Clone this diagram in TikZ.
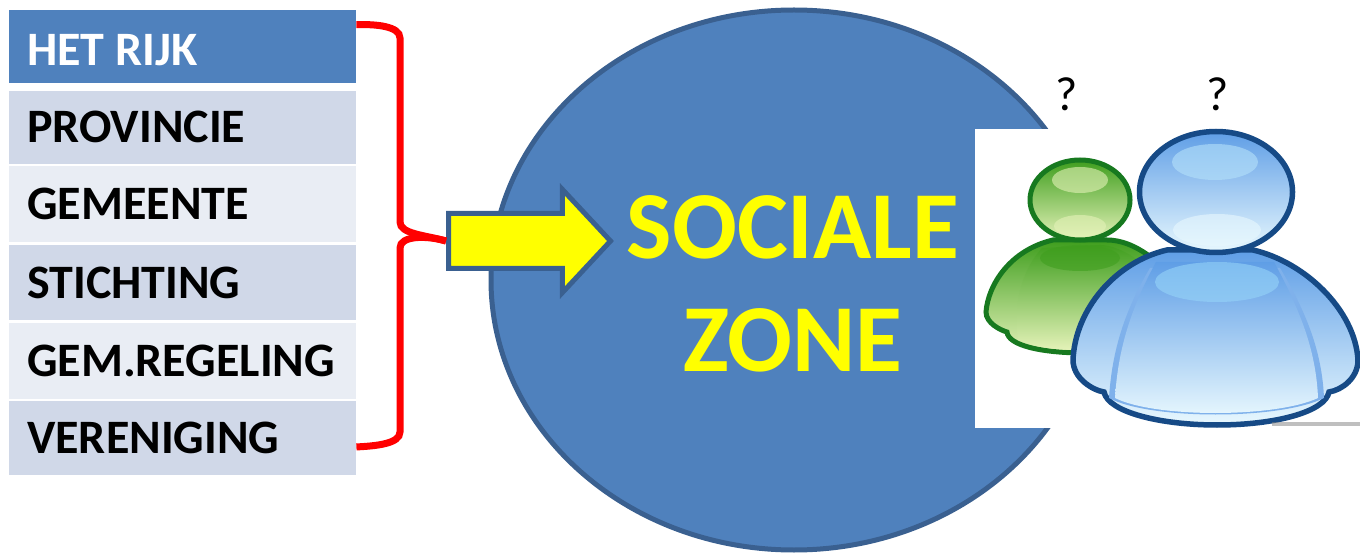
\documentclass[tikz,border=0pt]{standalone}
\usepackage{fontspec}
\setmainfont{Carlito}
\usetikzlibrary{positioning,shapes.geometric,shapes.arrows}
\definecolor{zoneblue}{HTML}{4F81BD}
\definecolor{zoneline}{HTML}{3A6090}
\definecolor{rowdark}{HTML}{D0D8E8}
\definecolor{rowlight}{HTML}{E9EDF4}
\definecolor{pureyellow}{HTML}{FFFF00}
\definecolor{purered}{HTML}{FF0000}
\definecolor{bluedark}{HTML}{164A86}
\definecolor{bluetop}{HTML}{5F9EE6}
\definecolor{bluemid}{HTML}{96D4F8}
\definecolor{bluelow}{HTML}{E8F8FE}
\definecolor{greendark}{HTML}{17791F}
\definecolor{greentop}{HTML}{3F9E1E}
\definecolor{greenmid}{HTML}{8CC832}
\definecolor{greenlow}{HTML}{E4F2B8}
\tikzset{
  basic/.style    = {rectangle, inner xsep=18pt, inner ysep=0pt, text width=311pt, align=left, minimum height=75.5pt, font=\fontsize{48}{48}\selectfont\bfseries},
  rowhead/.style  = {basic, fill=zoneblue, text=white, minimum height=73pt},
  rowd/.style     = {basic, fill=rowdark},
  rowl/.style     = {basic, fill=rowlight},
  brace/.style    = {draw=purered, line width=7pt},
  ask/.style      = {font=\fontsize{48}{48}\selectfont},
  bluefill/.style = {top color=bluetop, middle color=bluemid, bottom color=bluelow},
  greenfill/.style = {top color=greentop, middle color=greenmid, bottom color=greenlow},
  gloss/.style    = {fill=#1, draw=none, opacity=.6}
}
\begin{document}
\begin{tikzpicture}[x=1pt,y=-1pt]
\useasboundingbox (0,0) rectangle (1360,553);

% the big zone
\node[ellipse, draw=zoneline, line width=5pt, fill=zoneblue, minimum width=606pt, minimum height=540pt, inner sep=0pt] (zone) at (794,280) {};
\node[font=\fontsize{96}{113}\selectfont\bfseries, text=pureyellow, align=center, inner sep=0pt] (zonetext) at (793,284) {SOCIALE\\ZONE};
\fill[white] (975,129) rectangle (1360,428);

% the list of rows
\node[rowhead, anchor=north west] (rijk) at (9,10) {\rule{0pt}{37pt}HET\kern-5pt\ RIJK};
\node[rowd, below=7.5pt of rijk, minimum height=72.5pt] (provincie) {PROVINCIE};
\node[rowl, below=2.5pt of provincie] (gemeente) {GEMEENTE};
\node[rowd, below=2.5pt of gemeente] (stichting) {STICHTING};
\node[rowl, below=2.5pt of stichting] (gemregeling) {GEM.REGELING};
\node[rowd, below=2pt of gemregeling, minimum height=73.5pt] (vereniging) {VERENIGING};

% arrow into the zone
\node[single arrow, draw=zoneline, line width=5pt, fill=pureyellow, inner xsep=0pt, inner ysep=25pt, minimum height=162pt, single arrow head extend=24pt, single arrow tip angle=94, single arrow head indent=0pt, anchor=tail] (pijl) at (446,241) {};

% the red brace
\draw[brace] ([yshift=22pt]rijk.east) .. controls (375,24) and (400,26) .. (400,38) -- (400,222) .. controls (400,234) and (425,235) .. (pijl.tail);
\draw[brace] ([yshift=-9pt]vereniging.east) .. controls (375,446) and (400,444) .. (400,432) -- (400,248) .. controls (400,236) and (425,235) .. (pijl.tail);

% green person
\path[draw=greendark, line width=5pt, top color=greentop, middle color=greenmid, bottom color=greenlow]
  (1053,240) .. controls (1010,250) and (988,285) .. (986,312)
  .. controls (986,323) and (1000,330) .. (1007,332)
  .. controls (1008,345) and (1040,353) .. (1085,353) -- (1140,340) -- (1152,258)
  .. controls (1135,245) and (1120,240) .. (1107,240) -- cycle;
\path[top color=greentop, middle color=greenmid, bottom color=greenlow] (1042,248) .. controls (1018,275) and (1014,310) .. (1018,340)
  .. controls (1040,349) and (1060,350) .. (1085,350) -- (1130,330) -- (1140,262) .. controls (1125,250) and (1110,245) .. (1100,245) -- cycle;
\fill[greentop, opacity=.6] (1080,258) ellipse (40 and 13);
\node[ellipse, draw=greendark, line width=5pt, greenfill, minimum width=100pt, minimum height=80pt, inner sep=0pt] (greenhead) at (1080,200) {};
\fill[gloss=greenlow] (1080,180) ellipse (28 and 13);
\fill[gloss=greenlow] (1080,226) ellipse (26 and 11);

% blue person
\path[draw=bluedark, line width=5.5pt, top color=bluetop, middle color=bluemid, bottom color=bluelow]
  (1167,250) .. controls (1115,262) and (1075,310) .. (1073,360)
  .. controls (1073,378) and (1092,390) .. (1104,392)
  .. controls (1108,412) and (1160,425) .. (1217,425)
  .. controls (1275,425) and (1325,412) .. (1329,392)
  .. controls (1342,390) and (1358,378) .. (1358,360)
  .. controls (1355,310) and (1305,262) .. (1253,250) -- cycle;
\fill[bluetop!80!white] (1150,268) .. controls (1125,310) and (1112,350) .. (1109,398)
  .. controls (1150,420) and (1280,420) .. (1324,398)
  .. controls (1322,350) and (1305,310) .. (1280,268) -- cycle;
\path[top color=bluetop, middle color=bluemid, bottom color=bluelow] (1156,262) .. controls (1130,310) and (1118,350) .. (1115,398)
  .. controls (1155,418) and (1275,418) .. (1318,398)
  .. controls (1316,350) and (1300,310) .. (1274,262) -- cycle;
\fill[gloss=bluemid] (1217,282) ellipse (62 and 20);
\node[ellipse, draw=bluedark, line width=5.5pt, bluefill, minimum width=153pt, minimum height=121pt, inner sep=0pt] (bluehead) at (1216,192) {};
\fill[gloss=bluemid!70!white] (1215,162) ellipse (43 and 18);
\fill[gloss=bluelow] (1217,230) ellipse (44 and 16);
\fill[gray, opacity=.5] (1272,422) rectangle (1360,426);

% the question marks
\node[ask] (vraag1) at (1067,94) {?};
\node[ask] (vraag2) at (1218,94) {?};
\end{tikzpicture}
\end{document}
